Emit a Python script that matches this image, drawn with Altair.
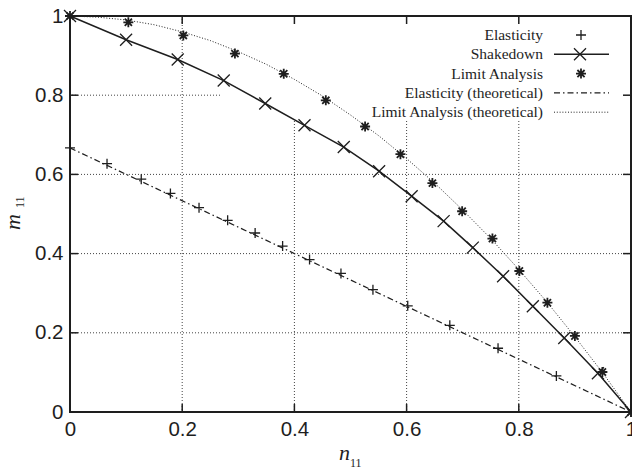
import altair as alt
import pandas as pd

# ---------------- data ----------------
elast_n = [0.0, 0.066, 0.127, 0.179, 0.230, 0.281, 0.330, 0.379, 0.427, 0.483,
           0.540, 0.602, 0.677, 0.763, 0.867, 1.0]
elast_m = [0.667, 0.627, 0.588, 0.552, 0.516, 0.484, 0.452, 0.419, 0.385, 0.350,
           0.309, 0.268, 0.219, 0.161, 0.091, 0.0]

shake_n = [0.0, 0.100, 0.192, 0.274, 0.348, 0.418, 0.488, 0.551, 0.609, 0.666,
           0.718, 0.772, 0.825, 0.881, 0.941, 1.0]
shake_m = [1.0, 0.940, 0.890, 0.837, 0.779, 0.724, 0.669, 0.608, 0.545, 0.482,
           0.415, 0.343, 0.267, 0.187, 0.098, 0.0]

limit_n = [0.0, 0.104, 0.202, 0.294, 0.381, 0.456, 0.526, 0.589, 0.646, 0.699,
           0.753, 0.801, 0.851, 0.900, 0.949, 1.0]
limit_m = [1.0, 0.984, 0.951, 0.905, 0.854, 0.787, 0.721, 0.651, 0.578, 0.507,
           0.438, 0.356, 0.276, 0.192, 0.101, 0.0]

elast_theo_n = [0.0, 1.0]
elast_theo_m = [0.667, 0.0]

limit_theo_n = [0.0, 0.05, 0.10, 0.15, 0.20, 0.25, 0.30, 0.35, 0.40, 0.45, 0.50,
                0.55, 0.60, 0.65, 0.70, 0.75, 0.80, 0.85, 0.90, 0.95, 1.0]
limit_theo_m = [1.0, 0.997, 0.99, 0.978, 0.96, 0.938, 0.91, 0.878, 0.84, 0.798, 0.75,
                0.698, 0.64, 0.578, 0.51, 0.438, 0.36, 0.278, 0.19, 0.098, 0.0]

tick_values = [0, 0.2, 0.4, 0.6, 0.8, 1]
grid_values = [0.2, 0.4, 0.6, 0.8]

legend_labels = ["Elasticity", "Shakedown", "Limit Analysis",
                 "Elasticity (theoretical)", "Limit Analysis (theoretical)"]

x_title_main, x_title_sub = "n", "11"
y_title_main, y_title_sub = "m", "11"

# ---------------- styling ----------------
W, H = 561, 396
INK = "#1e1e1e"
SERIF = "Liberation Serif"
SANS = "Liberation Sans"

PLUS = "M-1,0L1,0M0,-1L0,1"
CROSS = "M-1,-1L1,1M-1,1L1,-1"
STAR = "M-1,0L1,0M0,-1L0,1M-0.72,-0.72L0.72,0.72M-0.72,0.72L0.72,-0.72"
DASHDOT = [6, 3, 1.5, 3]
DOTTED = [1, 1.8]

xs = alt.Scale(domain=[0, 1], nice=False, zero=False)
ys = alt.Scale(domain=[0, 1], nice=False, zero=False)

common_axis = dict(values=tick_values, format="~g", labelFont=SANS, labelFontSize=20.5,
                   labelColor=INK, labelFlush=False, labelOverlap=False,
                   ticks=False, domain=False, grid=False, title=None)
x_axis = alt.Axis(labelPadding=7, **common_axis)
y_axis = alt.Axis(labelPadding=7, **common_axis)


def X(f):
    return alt.X(f, type="quantitative", scale=xs, axis=x_axis)


def Y(f):
    return alt.Y(f, type="quantitative", scale=ys, axis=y_axis)


one = pd.DataFrame({"k": [0]})
grid_df = pd.DataFrame({"v": grid_values})
tick_df = pd.DataFrame({"v": tick_values})

layers = []

# grid lines (dotted)
layers.append(alt.Chart(grid_df).mark_rule(color="#444", strokeWidth=1, strokeDash=[1, 2])
              .encode(x=X("v")))
layers.append(alt.Chart(grid_df).mark_rule(color="#444", strokeWidth=1, strokeDash=[1, 2])
              .encode(y=Y("v")))

# key area hides the grid
layers.append(alt.Chart(one).mark_rect(color="white")
              .encode(x=alt.value(150), x2=alt.value(W - 1), y=alt.value(1), y2=alt.value(104)))

# theoretical curves and shakedown line
df_et = pd.DataFrame({"n": elast_theo_n, "m": elast_theo_m})
df_lt = pd.DataFrame({"n": limit_theo_n, "m": limit_theo_m})
df_el = pd.DataFrame({"n": elast_n, "m": elast_m})
df_sh = pd.DataFrame({"n": shake_n, "m": shake_m})
df_li = pd.DataFrame({"n": limit_n, "m": limit_m})

layers.append(alt.Chart(df_et).mark_line(color=INK, strokeWidth=1.2, strokeDash=DASHDOT)
              .encode(x=X("n"), y=Y("m")))
layers.append(alt.Chart(df_lt).mark_line(color="#222", strokeWidth=1, strokeDash=DOTTED)
              .encode(x=X("n"), y=Y("m"), order="n:Q"))
layers.append(alt.Chart(df_sh).mark_line(color=INK, strokeWidth=1.5)
              .encode(x=X("n"), y=Y("m"), order="n:Q"))

# markers
layers.append(alt.Chart(df_el).mark_point(shape=PLUS, size=100, filled=False, stroke=INK,
                                          strokeWidth=1.3, opacity=1)
              .encode(x=X("n"), y=Y("m")))
layers.append(alt.Chart(df_sh).mark_point(shape=CROSS, size=144, filled=False, stroke=INK,
                                          strokeWidth=1.3, opacity=1)
              .encode(x=X("n"), y=Y("m")))
layers.append(alt.Chart(df_li).mark_point(shape=STAR, size=100, filled=False, stroke=INK,
                                          strokeWidth=1.8, opacity=1)
              .encode(x=X("n"), y=Y("m")))

# inward ticks on all four sides
tick_style = dict(color=INK, strokeWidth=1.5)
layers.append(alt.Chart(tick_df).mark_rule(**tick_style)
              .encode(x=X("v"), y=alt.value(H), y2=alt.value(H - 8)))
layers.append(alt.Chart(tick_df).mark_rule(**tick_style)
              .encode(x=X("v"), y=alt.value(0), y2=alt.value(8)))
layers.append(alt.Chart(tick_df).mark_rule(**tick_style)
              .encode(y=Y("v"), x=alt.value(0), x2=alt.value(8)))
layers.append(alt.Chart(tick_df).mark_rule(**tick_style)
              .encode(y=Y("v"), x=alt.value(W), x2=alt.value(W - 8)))

# key (legend)
key_text_x = 473
key_sym_x = 511
key_line_x0, key_line_x1 = 484, 539
for i, lab in enumerate(legend_labels):
    ry = 19 + 19.3 * i
    layers.append(alt.Chart(pd.DataFrame({"t": [lab]}))
                  .mark_text(align="right", baseline="middle", font=SERIF, fontSize=15.5, color=INK)
                  .encode(x=alt.value(key_text_x), y=alt.value(ry), text="t:N"))
    if i == 0:
        layers.append(alt.Chart(one).mark_point(shape=PLUS, size=100, filled=False, stroke=INK,
                                                strokeWidth=1.3, opacity=1)
                      .encode(x=alt.value(key_sym_x), y=alt.value(ry)))
    elif i == 1:
        layers.append(alt.Chart(one).mark_rule(color=INK, strokeWidth=1.5)
                      .encode(x=alt.value(key_line_x0), x2=alt.value(key_line_x1), y=alt.value(ry)))
        layers.append(alt.Chart(one).mark_point(shape=CROSS, size=144, filled=False, stroke=INK,
                                                strokeWidth=1.3, opacity=1)
                      .encode(x=alt.value(key_sym_x - 1), y=alt.value(ry)))
    elif i == 2:
        layers.append(alt.Chart(one).mark_point(shape=STAR, size=100, filled=False, stroke=INK,
                                                strokeWidth=1.8, opacity=1)
                      .encode(x=alt.value(key_sym_x), y=alt.value(ry)))
    elif i == 3:
        layers.append(alt.Chart(one).mark_rule(color=INK, strokeWidth=1.2, strokeDash=DASHDOT)
                      .encode(x=alt.value(key_line_x0), x2=alt.value(key_line_x1), y=alt.value(ry)))
    else:
        layers.append(alt.Chart(one).mark_rule(color="#222", strokeWidth=1, strokeDash=DOTTED)
                      .encode(x=alt.value(key_line_x0), x2=alt.value(key_line_x1), y=alt.value(ry)))

# axis titles: italic letter with upright subscript
layers.append(alt.Chart(pd.DataFrame({"t": [x_title_main]}))
              .mark_text(align="left", baseline="alphabetic", font=SERIF, fontStyle="italic",
                         fontSize=22, color=INK)
              .encode(x=alt.value(269), y=alt.value(444), text="t:N"))
layers.append(alt.Chart(pd.DataFrame({"t": [x_title_sub]}))
              .mark_text(align="left", baseline="alphabetic", font=SERIF, fontSize=12, color=INK)
              .encode(x=alt.value(280), y=alt.value(451), text="t:N"))
layers.append(alt.Chart(pd.DataFrame({"t": [y_title_main]}))
              .mark_text(align="left", baseline="alphabetic", font=SERIF, fontStyle="italic",
                         fontSize=22, color=INK, angle=270)
              .encode(x=alt.value(-50.5), y=alt.value(214), text="t:N"))
layers.append(alt.Chart(pd.DataFrame({"t": [y_title_sub]}))
              .mark_text(align="left", baseline="alphabetic", font=SERIF, fontSize=12, color=INK,
                         angle=270)
              .encode(x=alt.value(-46), y=alt.value(192), text="t:N"))

chart = (alt.layer(*layers)
         .properties(width=W, height=H,
                     autosize=alt.AutoSizeParams(type="none"),
                     padding={"left": 70, "top": 16, "right": 1, "bottom": 57})
         .configure_view(stroke=INK, strokeWidth=2))

chart.save("out.html", embed_options={"renderer": "svg", "actions": False})
